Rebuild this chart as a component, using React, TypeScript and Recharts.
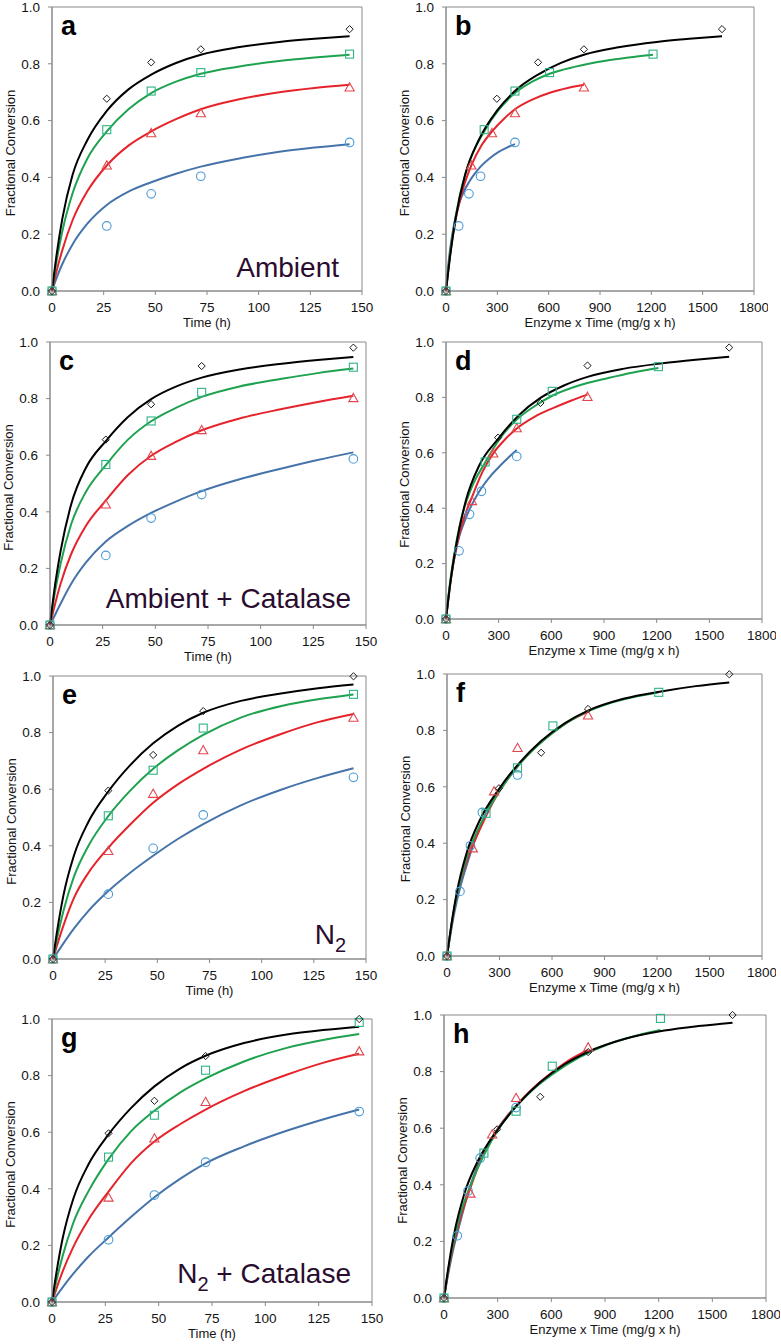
import React from "react";
import { ComposedChart, Line, Scatter, XAxis, YAxis, ReferenceArea } from "recharts";

// sampling times (h) of the measured points and of the fitted curves
const markerTimes = [0, 26.5, 48, 72, 144];
const curveTimes = [0, 2, 5, 10, 17, 26.5, 37, 48, 60, 72, 90, 110, 127, 144];

// enzyme x time (mg/g x h) for each enzyme loading
const markerDoseBlue = [0, 74, 134, 202, 403];
const markerDoseRed = [0, 148, 269, 403, 806];
const markerDoseGreen = [0, 223, 403, 605, 1210];
const markerDoseBlack = [0, 297, 538, 806, 1613];
const curveDoseBlue = [0, 5.6, 14, 28, 47.6, 74, 104, 134, 168, 202, 252, 308, 356, 403];
const curveDoseRed = [0, 11.2, 28, 56, 95, 148, 207, 269, 336, 403, 504, 616, 711, 806];
const curveDoseGreen = [0, 16.8, 42, 84, 143, 223, 311, 403, 504, 605, 756, 924, 1067, 1210];
const curveDoseBlack = [0, 22.4, 56, 112, 190, 297, 414, 538, 672, 806, 1008, 1232, 1422, 1613];

// Ambient
const ambientBlue = [0, 0.229, 0.342, 0.404, 0.523];
const ambientRed = [0, 0.442, 0.556, 0.626, 0.717];
const ambientGreen = [0, 0.568, 0.704, 0.769, 0.834];
const ambientBlack = [0, 0.677, 0.805, 0.851, 0.922];
const ambientFitBlue = [0, 0.042, 0.095, 0.165, 0.236, 0.303, 0.35, 0.383, 0.413, 0.438, 0.466, 0.49, 0.505, 0.517];
const ambientFitRed = [0, 0.064, 0.144, 0.25, 0.35, 0.442, 0.512, 0.562, 0.605, 0.64, 0.674, 0.7, 0.715, 0.726];
const ambientFitGreen = [0, 0.096, 0.21, 0.345, 0.465, 0.562, 0.64, 0.697, 0.737, 0.765, 0.79, 0.81, 0.822, 0.832];
const ambientFitBlack = [0, 0.116, 0.255, 0.41, 0.53, 0.634, 0.71, 0.762, 0.803, 0.832, 0.858, 0.877, 0.888, 0.897];

// Ambient + Catalase
const catalaseBlue = [0, 0.246, 0.378, 0.461, 0.587];
const catalaseRed = [0, 0.426, 0.598, 0.689, 0.802];
const catalaseGreen = [0, 0.567, 0.721, 0.822, 0.911];
const catalaseBlack = [0, 0.655, 0.78, 0.915, 0.98];
const catalaseFitBlue = [0, 0.03, 0.075, 0.145, 0.22, 0.295, 0.35, 0.396, 0.437, 0.473, 0.515, 0.553, 0.583, 0.61];
const catalaseFitRed = [0, 0.062, 0.145, 0.25, 0.35, 0.44, 0.53, 0.598, 0.648, 0.688, 0.73, 0.763, 0.788, 0.81];
const catalaseFitGreen = [0, 0.1, 0.215, 0.355, 0.47, 0.565, 0.655, 0.72, 0.768, 0.806, 0.843, 0.87, 0.89, 0.906];
const catalaseFitBlack = [0, 0.12, 0.26, 0.425, 0.555, 0.65, 0.735, 0.798, 0.843, 0.874, 0.903, 0.923, 0.936, 0.947];

// N2
const n2Blue = [0, 0.229, 0.391, 0.509, 0.642];
const n2Red = [0, 0.382, 0.584, 0.738, 0.853];
const n2Green = [0, 0.506, 0.667, 0.816, 0.935];
const n2Black = [0, 0.595, 0.721, 0.876, 0.999];
const n2FitBlue = [0, 0.022, 0.055, 0.107, 0.17, 0.24, 0.305, 0.365, 0.425, 0.477, 0.543, 0.6, 0.64, 0.674];
const n2FitRed = [0, 0.05, 0.118, 0.215, 0.305, 0.393, 0.475, 0.552, 0.618, 0.672, 0.74, 0.797, 0.837, 0.866];
const n2FitGreen = [0, 0.075, 0.17, 0.29, 0.4, 0.505, 0.595, 0.672, 0.738, 0.792, 0.853, 0.895, 0.918, 0.935];
const n2FitBlack = [0, 0.1, 0.225, 0.365, 0.485, 0.592, 0.685, 0.762, 0.825, 0.87, 0.912, 0.939, 0.957, 0.97];

// N2 + Catalase
const n2CatBlue = [0, 0.22, 0.378, 0.494, 0.673];
const n2CatRed = [0, 0.369, 0.578, 0.707, 0.886];
const n2CatGreen = [0, 0.512, 0.66, 0.819, 0.988];
const n2CatBlack = [0, 0.596, 0.711, 0.869, 1.0];
const n2CatFitBlue = [0, 0.021, 0.052, 0.1, 0.16, 0.228, 0.3, 0.37, 0.435, 0.49, 0.55, 0.605, 0.645, 0.68];
const n2CatFitRed = [0, 0.045, 0.108, 0.195, 0.29, 0.39, 0.49, 0.567, 0.628, 0.68, 0.745, 0.803, 0.845, 0.877];
const n2CatFitGreen = [0, 0.072, 0.163, 0.28, 0.39, 0.505, 0.603, 0.676, 0.74, 0.79, 0.85, 0.898, 0.926, 0.947];
const n2CatFitBlack = [0, 0.1, 0.225, 0.365, 0.485, 0.592, 0.685, 0.762, 0.825, 0.87, 0.915, 0.945, 0.961, 0.973];

const timeTicks = [0, 25, 50, 75, 100, 125, 150];
const doseTicks = [0, 300, 600, 900, 1200, 1500, 1800];
const yTicks = [0, 0.2, 0.4, 0.6, 0.8, 1.0];

type Color = "blue" | "red" | "green" | "black";
const ORDER: Color[] = ["blue", "red", "green", "black"];

const conditions: Record<string, Record<Color, [number[], number[]]>> = {
  ambient: {
    blue: [ambientBlue, ambientFitBlue],
    red: [ambientRed, ambientFitRed],
    green: [ambientGreen, ambientFitGreen],
    black: [ambientBlack, ambientFitBlack],
  },
  catalase: {
    blue: [catalaseBlue, catalaseFitBlue],
    red: [catalaseRed, catalaseFitRed],
    green: [catalaseGreen, catalaseFitGreen],
    black: [catalaseBlack, catalaseFitBlack],
  },
  n2: {
    blue: [n2Blue, n2FitBlue],
    red: [n2Red, n2FitRed],
    green: [n2Green, n2FitGreen],
    black: [n2Black, n2FitBlack],
  },
  n2cat: {
    blue: [n2CatBlue, n2CatFitBlue],
    red: [n2CatRed, n2CatFitRed],
    green: [n2CatGreen, n2CatFitGreen],
    black: [n2CatBlack, n2CatFitBlack],
  },
};

const markerDose: Record<Color, number[]> = {
  blue: markerDoseBlue, red: markerDoseRed, green: markerDoseGreen, black: markerDoseBlack,
};
const curveDose: Record<Color, number[]> = {
  blue: curveDoseBlue, red: curveDoseRed, green: curveDoseGreen, black: curveDoseBlack,
};

const FONT = "'Liberation Sans', Arial, Helvetica, sans-serif";
const AXIS_GRAY = "#8a8a8a";
const TEXT = "#141414";
const TITLE = "#2a0c2e";

const STYLE: Record<Color, { line: string; mark: string }> = {
  blue: { line: "#4673a9", mark: "#4a9bd5" },
  red: { line: "#e6232b", mark: "#e2474f" },
  green: { line: "#1fa24f", mark: "#2fb387" },
  black: { line: "#000000", mark: "#1a1a1a" },
};

// plot boxes in page pixels: [left, top, right, bottom]
const panels = [
  { id: "a", cond: "ambient", axis: "time", box: [52, 7, 362, 291] },
  { id: "b", cond: "ambient", axis: "dose", box: [446, 7, 754, 291] },
  { id: "c", cond: "catalase", axis: "time", box: [50, 342, 366, 625] },
  { id: "d", cond: "catalase", axis: "dose", box: [446, 342, 762, 619] },
  { id: "e", cond: "n2", axis: "time", box: [53, 676, 366, 959] },
  { id: "f", cond: "n2", axis: "dose", box: [447, 674, 762, 956] },
  { id: "g", cond: "n2cat", axis: "time", box: [52, 1019, 372, 1302] },
  { id: "h", cond: "n2cat", axis: "dose", box: [444, 1015, 766, 1298] },
];

const YW = 50;
const XH = 45;
const MT = 6;
const MR = 14;

const zip = (xs: number[], ys: number[]) => xs.map((x, i) => ({ x, y: ys[i] }));

const markerShape = (color: Color) => (props: any) => {
  const { cx, cy } = props;
  if (cx == null || cy == null) return <g />;
  const s = STYLE[color].mark;
  if (color === "blue") return <circle cx={cx} cy={cy} r={4.3} fill="none" stroke={s} strokeWidth={1.1} />;
  if (color === "green")
    return <rect x={cx - 4} y={cy - 4} width={8} height={8} fill="none" stroke={s} strokeWidth={1.1} />;
  if (color === "red")
    return (
      <polygon
        points={`${cx},${cy - 4.6} ${cx + 4.6},${cy + 3.6} ${cx - 4.6},${cy + 3.6}`}
        fill="none"
        stroke={s}
        strokeWidth={1.1}
      />
    );
  return (
    <polygon
      points={`${cx},${cy - 3.6} ${cx + 3.6},${cy} ${cx},${cy + 3.6} ${cx - 3.6},${cy}`}
      fill="none"
      stroke={s}
      strokeWidth={1}
    />
  );
};

function Panel({ p }: { p: (typeof panels)[number] }) {
  const [L, T, R, B] = p.box;
  const isTime = p.axis === "time";
  const xMax = isTime ? 150 : 1800;
  const data = conditions[p.cond];
  return (
    <div style={{ position: "absolute", left: L - YW, top: T - MT }}>
      <ComposedChart
        width={R - L + YW + MR}
        height={B - T + MT + XH}
        margin={{ top: MT, right: MR, bottom: 0, left: 0 }}
      >
        <XAxis
          type="number"
          dataKey="x"
          domain={[0, xMax]}
          ticks={isTime ? timeTicks : doseTicks}
          interval={0}
          height={XH}
          tickSize={4}
          tickMargin={7}
          stroke={AXIS_GRAY}
          tick={{ fill: TEXT, fontSize: 13.5, fontFamily: FONT }}
        />
        <YAxis
          type="number"
          dataKey="y"
          domain={[0, 1]}
          ticks={yTicks}
          interval={0}
          width={YW}
          tickSize={4}
          tickMargin={8}
          stroke={AXIS_GRAY}
          tickFormatter={(v: number) => v.toFixed(1)}
          tick={{ fill: TEXT, fontSize: 13.5, fontFamily: FONT }}
        />
        <ReferenceArea x1={0} x2={xMax} y1={0} y2={1} fill="none" stroke={AXIS_GRAY} strokeWidth={1} />
        {ORDER.map((c) => (
          <Line
            key={`fit-${c}`}
            data={zip(isTime ? curveTimes : curveDose[c], data[c][1])}
            dataKey="y"
            type="monotone"
            stroke={STYLE[c].line}
            strokeWidth={2}
            dot={false}
            activeDot={false}
            isAnimationActive={false}
          />
        ))}
        {ORDER.map((c) => (
          <Scatter
            key={`pts-${c}`}
            data={zip(isTime ? markerTimes : markerDose[c], data[c][0])}
            dataKey="y"
            shape={markerShape(c)}
            isAnimationActive={false}
          />
        ))}
      </ComposedChart>
    </div>
  );
}

const titles: Record<string, { text: React.ReactNode; dx: number; dy: number }> = {
  a: { text: "Ambient", dx: 23, dy: 14.5 },
  c: { text: "Ambient + Catalase", dx: 15, dy: 17.5 },
  e: {
    text: (
      <>
        N
        <tspan fontSize={20} dy={8}>2</tspan>
      </>
    ),
    dx: 20,
    dy: 15,
  },
  g: {
    text: (
      <>
        N
        <tspan fontSize={20} dy={8}>2</tspan>
        <tspan dy={-8}> + Catalase</tspan>
      </>
    ),
    dx: 21,
    dy: 19,
  },
};

export default function App() {
  return (
    <div style={{ position: "absolute", left: 0, top: 0, width: 781, height: 1344, background: "#fff", fontFamily: FONT }}>
      {panels.map((p) => (
        <Panel key={p.id} p={p} />
      ))}
      <svg
        width={781}
        height={1344}
        style={{ position: "absolute", left: 0, top: 0, pointerEvents: "none" }}
        fontFamily={FONT}
      >
        {panels.map((p) => {
          const [L, T, R, B] = p.box;
          const midY = (T + B) / 2 + 4;
          const t = titles[p.id];
          return (
            <g key={p.id}>
              <text x={L + 9} y={T + 28} fontSize={27} fontWeight="bold" fill="#000">
                {p.id}
              </text>
              <text
                x={L - 42}
                y={midY}
                fontSize={13}
                fill={TEXT}
                textAnchor="middle"
                dominantBaseline="central"
                transform={`rotate(-90 ${L - 42} ${midY})`}
              >
                Fractional Conversion
              </text>
              <text x={(L + R) / 2} y={B + 35.5} fontSize={13} fill={TEXT} textAnchor="middle">
                {p.axis === "time" ? "Time (h)" : "Enzyme x Time (mg/g x h)"}
              </text>
              {t && (
                <text x={R - t.dx} y={B - t.dy} fontSize={28} fill={TITLE} textAnchor="end">
                  {t.text}
                </text>
              )}
            </g>
          );
        })}
      </svg>
    </div>
  );
}
